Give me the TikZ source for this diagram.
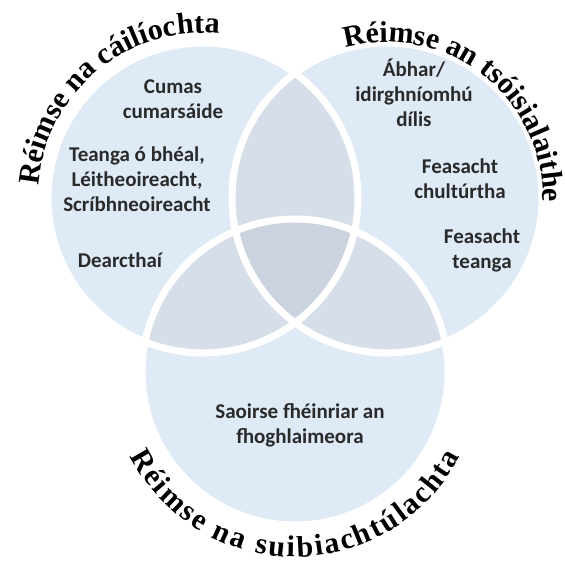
\documentclass[tikz,border=0pt]{standalone}
\usepackage{fontspec}
\setmainfont{Liberation Serif}
\newfontfamily\bodyfont{Carlito}
\usetikzlibrary{decorations.text}

\definecolor{ringblue}{HTML}{DEEAF6}
\definecolor{pairblue}{HTML}{D5DEE9}
\definecolor{coreblue}{HTML}{CAD3DF}
\definecolor{inktext}{HTML}{2A2A2A}

\begin{document}
\begin{tikzpicture}[x=1pt,y=1pt,
  ring/.style={draw=white, line width=7pt},
  item/.style={align=center, text=inktext, inner sep=0pt,
    font=\bodyfont\bfseries\fontsize{21}{25}\selectfont},
  heading/.style={decorate, decoration={text along path, text align=center,
    text={|\bfseries\fontsize{30}{30}\selectfont|#1}}},
  spreadheading/.style={decorate, decoration={text along path, text align=fit to path,
    text={|\bfseries\fontsize{30}{30}\selectfont|#1}}}]
\useasboundingbox (0,0) rectangle (565,561);

\coordinate (cL) at (203,363);
\coordinate (cR) at (387,363);
\coordinate (cB) at (295,189);

% the three domains
\fill[ringblue] (cL) circle (155);
\fill[ringblue] (cR) circle (155);
\fill[ringblue] (cB) circle (153);

% overlaps
\begin{scope}
\clip (cL) circle (155);
\fill[pairblue] (cR) circle (155);
\fill[pairblue] (cB) circle (153);
\end{scope}
\begin{scope}
\clip (cR) circle (155);
\fill[pairblue] (cB) circle (153);
\end{scope}
\begin{scope}
\clip (cL) circle (155);
\clip (cR) circle (155);
\fill[coreblue] (cB) circle (153);
\end{scope}

\draw[ring] (cL) circle (155);
\draw[ring] (cR) circle (155);
\draw[ring] (cB) circle (153);

% headings round the circles
\path[heading={Réimse na cáilíochta}] (cL) ++(190:165) arc[start angle=190, end angle=70, radius=165];
\path[heading={Réimse an tsóisialaithe}] (cR) ++(113:156) arc[start angle=113, end angle=-9, radius=156];
\path[spreadheading={Réimse na suibiachtúlachta}] (cB) ++(207:185) arc[start angle=207, end angle=333, radius=185];

% contents
\node (cumas) at (173,462) [item] {Cumas\\cumarsáide};
\node (teanga) at (137,382) [item] {Teanga ó bhéal,\\Léitheoireacht,\\Scríbhneoireacht};
\node (dearc) at (120,301) [item] {Dearcthaí};
\node (abhar) at (414,468) [item] {Ábhar/\\idirghníomhú\\dílis};
\node (cultur) at (460,382) [item] {Feasacht\\chultúrtha};
\node (feasteanga) at (482,311) [item] {Feasacht\\teanga};
\node (saoirse) at (300,136) [item] {Saoirse fhéinriar an\\fhoghlaimeora};
\end{tikzpicture}
\end{document}
